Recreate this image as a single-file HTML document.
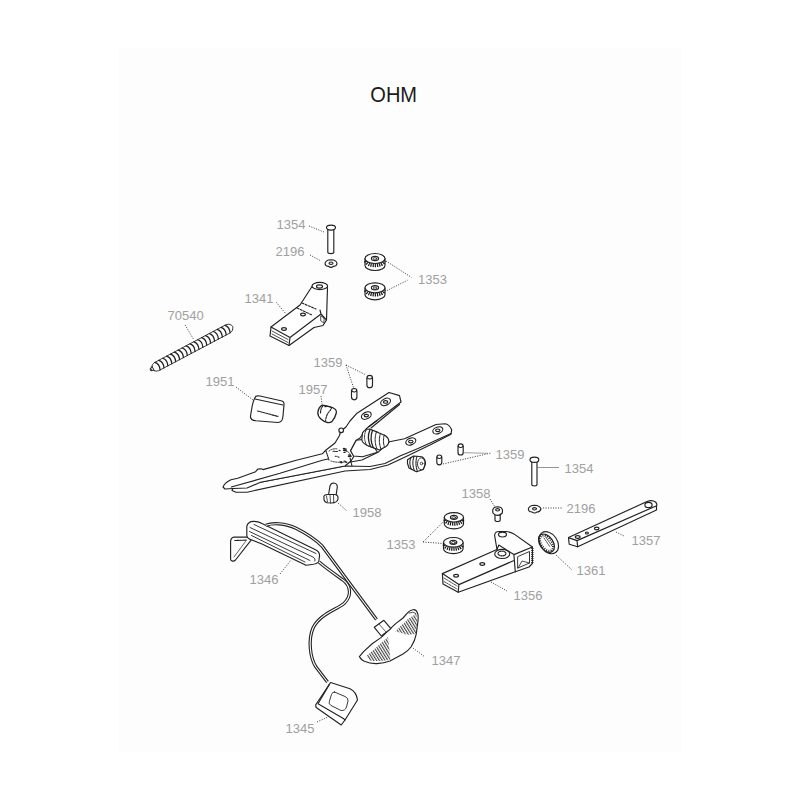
<!DOCTYPE html>
<html><head><meta charset="utf-8"><title>OHM</title>
<style>
html,body{margin:0;padding:0;background:#fff;width:800px;height:800px;overflow:hidden}
svg{display:block}
.d{fill:none;stroke:#222;stroke-width:1.15;stroke-linejoin:round;stroke-linecap:round}
.w{fill:#fff}
.k{fill:none;stroke:#333;stroke-width:.9;stroke-dasharray:1.1 1.4}
.t{font-family:"Liberation Sans",sans-serif;font-size:13px;fill:#a0a0a0}
.h{font-family:"Liberation Sans",sans-serif;font-size:21px;fill:#1a1a1a}
</style></head>
<body>
<svg width="800" height="800" viewBox="0 0 800 800">
<rect x="0" y="0" width="800" height="800" fill="#fff"/>
<rect x="118" y="48" width="564" height="704" fill="#fdfdfd"/>
<text class="h" transform="translate(370.3 102.4) scale(0.955 1.02)">OHM</text>

<!-- ===== labels ===== -->
<g class="t">
<text x="276.5" y="228.9">1354</text>
<text x="275.5" y="256">2196</text>
<text x="418" y="283.6">1353</text>
<text x="244.5" y="302.9">1341</text>
<text x="167.5" y="319.9">70540</text>
<text x="313.5" y="367">1359</text>
<text x="205.5" y="386.1">1951</text>
<text x="298.5" y="393.6">1957</text>
<text x="495.5" y="458.6">1359</text>
<text x="564.5" y="472.6">1354</text>
<text x="461.5" y="497.6">1358</text>
<text x="566.5" y="512.6">2196</text>
<text x="352.5" y="517.1">1958</text>
<text x="631.5" y="545">1357</text>
<text x="386.5" y="548.8">1353</text>
<text x="576.5" y="574.6">1361</text>
<text x="249.5" y="583.8">1346</text>
<text x="513.5" y="599.6">1356</text>
<text x="431.5" y="664.6">1347</text>
<text x="285.5" y="732.6">1345</text>
</g>

<!-- ===== leader lines ===== -->
<g class="k">
<path d="M309 226 L324 232"/>
<path d="M310 255 L321 261"/>
<path d="M386 261 L411.6 277.5 M386.9 290.6 L407.5 280.3"/>
<path d="M276.4 302.4 L286 314"/>
<path d="M185 325 L194 340"/>
<path d="M346 365 L354 389 M346 365 L366 375"/>
<path d="M236 387 L253 400"/>
<path d="M321 396 L322 404"/>
<path d="M443 464 L491 453"/>
<path d="M464 452.7 L488 453.3" style="stroke:#888;stroke-dasharray:none;stroke-width:.8"/>
<path d="M538 467.5 L559 467.5" style="stroke:#777;stroke-dasharray:none;stroke-width:.8"/>
<path d="M490 499 L495 507"/>
<path d="M543 508 L562 508"/>
<path d="M338 503 L347 511"/>
<path d="M616 532 L624 536"/>
<path d="M423 542 L444.3 521 M423 542 L443 543.5"/>
<path d="M556 555 L572 570"/>
<path d="M280 574 L291 560"/>
<path d="M491 582 L507 591"/>
<path d="M413 648 L425 657"/>
<path d="M317 722 L328 717"/>
</g>


<!-- pin 1354 top -->
<g class="d">
<path class="w" d="M327.8 229 V252.3 Q327.8 253.6 330.8 253.6 Q333.8 253.6 333.8 252.3 V229"/>
<ellipse class="w" cx="331" cy="227.6" rx="4.5" ry="2.5"/>
</g>
<!-- washer 2196 top -->
<g class="d">
<path class="w" d="M325 263.5 Q325.5 260 331 259.8 Q336.5 260 337 263.5 Q336.5 266.5 333.5 266.3 Q331 268.5 328.5 266.3 Q325.3 266.5 325 263.5Z"/>
<ellipse cx="331" cy="263.2" rx="2" ry="1.2"/>
</g>
<!-- washers 1353 top -->
<g class="d">
<path class="w" d="M365 258.5 V265.5 A10 5 0 0 0 385 265.5 V258.5"/>
<path d="M366 261.0 A9 4.4 0 0 0 384 261.0" stroke-width="3.6" stroke-dasharray="1.2 0.9" stroke-linecap="butt" stroke="#1a1a1a"/>
<ellipse class="w" cx="375" cy="258.5" rx="10" ry="5"/>
<ellipse cx="375" cy="258.5" rx="3.6" ry="2.1"/>
<ellipse cx="375" cy="258.8" rx="1.8" ry="1.1" stroke-width=".8"/>
<path class="w" d="M365 287.8 V294.8 A10 5 0 0 0 385 294.8 V287.8"/>
<path d="M366 290.3 A9 4.4 0 0 0 384 290.3" stroke-width="3.6" stroke-dasharray="1.2 0.9" stroke-linecap="butt" stroke="#1a1a1a"/>
<ellipse class="w" cx="375" cy="287.8" rx="10" ry="5"/>
<ellipse cx="375" cy="287.8" rx="3.6" ry="2.1"/>
<ellipse cx="375" cy="288.1" rx="1.8" ry="1.1" stroke-width=".8"/>
</g>
<!-- bracket 1341 -->
<g class="d">
<path class="w" d="M312 286.5 L300 305 L271 327 L270 336 L289 345.5 L314 327.5 L323 325.5 L326.5 320 L327.5 287.5"/>
<ellipse class="w" cx="319.8" cy="286" rx="7.8" ry="3.6"/>
<ellipse cx="319.5" cy="286.5" rx="3" ry="1.6"/>
<path d="M271 327 L290 337.5 L289 345.5 M290 337.5 L321 314 L326.5 320 M321 314 L320 310"/>
<path d="M302 303 L316 309 M297 308 L312 315" stroke-dasharray="2 1.5"/>
<ellipse cx="303" cy="314.5" rx="2.4" ry="1.4"/>
<ellipse cx="284" cy="329" rx="2.4" ry="1.4"/>
<path d="M272 331 L288 339.5 M272 334 L288 342.5" stroke-width=".8"/>
<path d="M321 316 L324 318 L324 323 L321 321Z" stroke-width=".8"/>
</g>
<!-- spring 70540 -->
<g class="d" transform="translate(154,368) rotate(-27.9)">
<path class="w" d="M3 -4.6 H84 Q87 -4.4 88.5 -1.5 Q89.5 0 88.5 1.5 Q87 4.4 84 4.6 H3 Q0 4.2 -1.5 2 L-3 1 L-3 -1 L-1.5 -2 Q0 -4.2 3 -4.6Z" stroke-width=".8"/>
<path d="M3.5 -4.5 Q6.9 -1 4.5 4.5 M7.9 -4.5 Q11.3 -1 8.9 4.5 M12.3 -4.5 Q15.7 -1 13.3 4.5 M16.7 -4.5 Q20.1 -1 17.7 4.5 M21.1 -4.5 Q24.5 -1 22.1 4.5 M25.5 -4.5 Q28.9 -1 26.5 4.5 M29.9 -4.5 Q33.3 -1 30.9 4.5 M34.3 -4.5 Q37.7 -1 35.3 4.5 M38.7 -4.5 Q42.1 -1 39.7 4.5 M43.1 -4.5 Q46.5 -1 44.1 4.5 M47.5 -4.5 Q50.9 -1 48.5 4.5 M51.9 -4.5 Q55.3 -1 52.9 4.5 M56.3 -4.5 Q59.7 -1 57.3 4.5 M60.7 -4.5 Q64.1 -1 61.7 4.5 M65.1 -4.5 Q68.5 -1 66.1 4.5 M69.5 -4.5 Q72.9 -1 70.5 4.5 M73.9 -4.5 Q77.3 -1 74.9 4.5 M78.3 -4.5 Q81.7 -1 79.3 4.5 M82.7 -4.5 Q86.1 -1 83.7 4.5" stroke-width="1.25"/>
<path d="M-3 -1.5 Q-5.5 0 -3 1.5 M-1 -2.5 L-1 2.5" stroke-width=".9"/>
</g>
<!-- pins 1359 upper -->
<g class="d">
<rect class="w" x="351.5" y="388.5" width="5.4" height="11.3" rx="2.7"/>
<path d="M351.8 391 Q354.2 393 356.6 391"/>
<rect class="w" x="366.9" y="375.3" width="5.6" height="12.4" rx="2.8"/>
<path d="M367.2 378 Q369.7 380 372.2 378"/>
</g>
<!-- 1951 pad -->
<g class="d">
<path class="w" d="M255.8 396.3 Q257 395.5 260 396 L282 401 Q284.5 402 284 404.5 L283 416 Q282.5 422.5 278 422.5 L256 420.8 Q250 420 250.5 416 L251.5 410 Q253 400 255.8 396.3Z"/>
<path d="M255 399 L283 405"/>
<path d="M257.5 411 L278 416.4" stroke-dasharray="2 1"/>
</g>
<!-- 1957 roller -->
<g class="d">
<path class="w" d="M322.3 405.2 Q325 405.5 328.4 406.3 Q333 407 335.4 409.4 Q336.8 411 336.3 413 Q335 418.5 331.9 421.6 Q330 422.8 327.5 422.5 Q323.5 421.5 320.9 419 Q317.6 416 317.9 412.4 Q318.5 407 322.3 405.2Z" stroke-width="1.3"/>
<path d="M324.9 406.6 Q329.5 405.8 331.4 407.8 Q331 410 328.8 412 Q326.3 415 325.6 420.5" stroke-dasharray="1.8 1.1"/>
<path d="M322.8 406 Q320.3 409 320.6 413.5" stroke-dasharray="1.8 1"/>
</g>
<!-- main lever assembly -->
<g class="d">
<!-- lower arm -->
<path class="w" d="M232 490.5 L236 492.2 L247 492.2 L345 471 L370 469.5 L388 465 L402 458.5 L430 445 L451 434.2 L451.7 429.7 Q449 424 445 423.7 L436 424.5 L404.5 438.8 L389.5 441.8 L378 452.3 L362 460 L345 463 L300 471 L233 488 Z"/>
<path d="M260.5 482.3 L345 466 L370 466.5 L385 463.5 L400 456 L418 448.5 L451 433.6"/>
<ellipse cx="437.8" cy="430.3" rx="5.2" ry="3.3" transform="rotate(-20 437.8 430.3)"/>
<ellipse cx="437.8" cy="430.3" rx="2.2" ry="1.3"/>
<ellipse cx="410.8" cy="441.5" rx="5.2" ry="3.3" transform="rotate(-20 410.8 441.5)"/>
<ellipse cx="410.8" cy="441.5" rx="2.2" ry="1.3"/>
<!-- upper arm -->
<path class="w" d="M223 487 Q225 482.5 231 479.8 L237.8 478.2 L255.6 471.7 L258 469 L261 468.7 L263 469.6 L270.3 467.6 L296.3 460.3 L322.3 453.8 L326 450 L335 443 L339.5 435.5 L340.5 431.5 L346 427 L350 421 L357 413.2 L389 392.5 L399.5 395.6 L401 402 L369 426.5 L366 429 L360 438 L356 440.5 L350.6 450.8 L354 456 L351 461 L345 466 L260.5 482.3 L247 488 L233 488.5 L225 489 Z"/>
<circle class="w" cx="341.2" cy="430.3" r="2.3"/>
<path d="M399.5 404.5 L371 428"/>
<path d="M231.3 487 L280 473.3 L322.3 460.3 L328 459"/>
<ellipse cx="385.6" cy="401.9" rx="5.2" ry="3.3" transform="rotate(-25 385.6 401.9)"/>
<ellipse cx="385.6" cy="401.9" rx="2.2" ry="1.3"/>
<ellipse cx="366.3" cy="415.6" rx="5.2" ry="3.3" transform="rotate(-25 366.3 415.6)"/>
<ellipse cx="366.3" cy="415.6" rx="2.2" ry="1.3"/>
<path d="M335.2 456.2 l1.2 0.1 M343.8 449.0 l0.8 0.3 M335.7 451.5 l1.8 -0.0 M348.4 455.1 l1.4 -0.3 M344.0 461.0 l1.3 0.2 M344.8 449.0 l1.6 0.1 M349.0 455.1 l1.5 0.4 M345.7 461.8 l1.2 0.3 M339.8 462.0 l1.7 -0.4 M333.0 451.3 l1.8 -0.1 M343.8 452.5 l1.3 -0.1 M337.7 456.8 l1.4 0.4 M345.0 461.9 l1.7 0.5 M344.8 450.4 l1.7 0.5 M349.9 456.5 l1.5 -0.3 M348.3 456.6 l1.1 -0.4 M339.0 450.3 l1.1 0.3 M343.5 448.7 l1.5 -0.2 M341.1 463.0 l1.1 -0.4 M343.2 448.5 l1.0 -0.1 M343.4 450.3 l0.8 0.4" stroke-width="1.1"/>
<path d="M329 451 Q333 448 338 449 M344 450 Q350 452 351 456 M331 461 Q337 463 345 462" stroke-dasharray="1.2 1.2" stroke-width=".9"/>
<path d="M326 451 L329 460 M350 458 L352 466" stroke-dasharray="1.2 1"/>
<!-- roller bracket -->
<path class="w" d="M356.3 440.3 L350.6 450.8 L353.5 456 L362.5 456.8 L377.5 452.3 L375 448.5 L367.5 445.5 L362.3 439.5Z"/>
<!-- roller -->
<path class="w" d="M362.5 433 Q364.5 429.3 369.5 429 L378 432.4 L385.5 435.8 Q389 438.5 388.8 441.5 Q388.5 445 386 446.5 L379.5 450 L373.5 447.8 L367.5 445.5 Q362 443 361.8 439.5 Z"/>
<path d="M366 430.3 Q362.8 437 366.5 445" stroke-width=".9" stroke-dasharray="1.5 1"/>
<path d="M370 429.6 Q366.5 438 370.5 446.5 M372.5 430.3 Q369.3 439 373.2 447.5" stroke-width="1.3"/>
<path d="M376.5 431.8 Q373.5 440 377 449 M380.5 433.3 Q378 441 381 449 M384.3 435 Q382.5 441 384.5 447" stroke-width="1" stroke-dasharray="2 .8"/>
<path d="M369 426.5 L377 420.5"/>
</g>
<!-- rubber buffer near lower arm -->
<g class="d">
<path class="w" d="M407.5 459.8 L413.5 456 L421.8 456.8 Q425.5 459 425.5 463.5 L423.3 469.5 L416.5 471.8 L409 468 L407.5 463.5 Z"/>
<ellipse cx="421.3" cy="463.8" rx="3.8" ry="6" stroke-width=".9"/>
<path d="M411 457.5 Q408.5 463 411.5 469.5 M414 456.5 Q411.5 463.5 414.5 470.8 M417 456.3 Q414.7 464 417.5 471.5" stroke-width="1.1" stroke-dasharray="1.6 0.8"/>
<circle cx="421.5" cy="463.5" r="1.3" stroke-width=".8"/>
</g>
<!-- pins 1359 right -->
<g class="d">
<rect class="w" x="436.8" y="455" width="5" height="9.8" rx="2.5"/>
<path d="M437 457.5 Q439.3 459.5 441.6 457.5"/>
<rect class="w" x="458" y="443.8" width="5.2" height="11.2" rx="2.6"/>
<path d="M458.2 446.5 Q460.6 448.5 463 446.5"/>
</g>
<!-- pin 1354 right -->
<g class="d">
<path class="w" d="M531.8 461 V484.6 Q531.8 486 534.4 486 Q537 486 537 484.6 V461"/>
<ellipse class="w" cx="534.4" cy="459.8" rx="4.4" ry="2.6"/>
</g>
<!-- washer 2196 right -->
<g class="d">
<path class="w" d="M528.3 509 Q529 505.5 534.5 505.3 Q540 505.5 541 509 Q540 512 537 512 Q534.5 514 532 512 Q528.7 512 528.3 509Z"/>
<ellipse cx="534.5" cy="508.8" rx="2" ry="1.2"/>
</g>
<!-- screw 1358 -->
<g class="d">
<path class="w" d="M495 514 V520 Q495 521.5 497.6 521.5 Q500.2 521.5 500.2 520 V514"/>
<path class="w" d="M492.7 510.5 Q493 507 497.6 506.8 Q502.2 507 502.5 510.5 L502.3 513 Q500 515.5 497.6 515.3 Q495 515.5 492.9 513Z"/>
<ellipse cx="497.6" cy="509.8" rx="2" ry="1.2"/>
</g>
<!-- screw 1958 (head down) -->
<g class="d">
<path class="w" d="M328.5 495 L330 486 Q331 483 333.5 483 Q337.5 483.5 337.3 487 L336 496"/>
<path class="w" d="M324 498 Q323 494.5 328 494.5 L335 494.5 Q338.5 495 338 499 Q337.5 502.5 332 503 L327 502.8 Q323.5 501.5 324 498Z"/>
<path d="M326.5 496 L327.5 502 M330 495 L330.5 503 M333.5 495 L333.8 503" stroke-width=".8"/>
</g>


<!-- washers 1353 right -->
<g class="d">
<path class="w" d="M444.29999999999995 517.3 V524.0999999999999 A9.6 4.7 0 0 0 463.5 524.0999999999999 V517.3"/>
<path d="M445.29999999999995 519.8 A8.6 4.1000000000000005 0 0 0 462.5 519.8" stroke-width="3.6" stroke-dasharray="1.2 0.9" stroke-linecap="butt" stroke="#1a1a1a"/>
<ellipse class="w" cx="453.9" cy="517.3" rx="9.6" ry="4.7"/>
<ellipse cx="453.9" cy="517.3" rx="3.5" ry="2.0"/>
<ellipse cx="453.9" cy="517.5999999999999" rx="1.7" ry="1.0" stroke-width=".8"/>
<path class="w" d="M443.5 542.3 V548.8 A9.8 4.8 0 0 0 463.1 548.8 V542.3"/>
<path d="M444.5 544.8 A8.8 4.2 0 0 0 462.1 544.8" stroke-width="3.6" stroke-dasharray="1.2 0.9" stroke-linecap="butt" stroke="#1a1a1a"/>
<ellipse class="w" cx="453.3" cy="542.3" rx="9.8" ry="4.8"/>
<ellipse cx="453.3" cy="542.3" rx="3.5" ry="2.0"/>
<ellipse cx="453.3" cy="542.5999999999999" rx="1.8" ry="1.1" stroke-width=".8"/>
</g>
<!-- bracket 1356 -->
<g class="d">
<path class="w" d="M442.4 573.6 L497 549.5 L494.6 535.3 Q495 531.5 499 531.5 L506 531.5 Q510 532 513.9 533.9 L532.4 547 L532.4 563.5 L529 567 L515.3 571.8 L458.2 592.2 L443 584 Z"/>
<path d="M442.4 573.6 L458.9 584.6 L458.2 592.2 M458.9 584.6 L514 560.5 M513.9 554.6 L515.3 571.8 M513.9 554.6 L532.4 547 M497 549.5 L498.8 545 L513.9 554.6"/>
<path d="M518 556.5 L529.5 551.5 L529.5 563 L518 568Z" stroke-width=".9"/>
<path d="M518 568 L522 561 L529.5 563" stroke-width=".8"/>
<path d="M532.4 548 V563" stroke-width="2.2" stroke-dasharray="1 1" stroke-linecap="butt"/>
<ellipse cx="502.5" cy="534.6" rx="4" ry="2.4"/>
<ellipse cx="502.2" cy="553.9" rx="7.5" ry="4.6"/>
<ellipse cx="502" cy="553.5" rx="4" ry="2.4" stroke-dasharray="1.5 1"/>
<ellipse cx="482.3" cy="564" rx="2.4" ry="1.4"/>
<ellipse cx="456.1" cy="575.7" rx="2.4" ry="1.4"/>
<path d="M444 578 L457 586 M444 581.5 L457 589" stroke-width=".8" stroke-dasharray="2 1"/>
</g>
<!-- knurled disc 1361 -->
<g class="d">
<ellipse class="w" cx="548.7" cy="542.7" rx="12" ry="8.6" transform="rotate(55 548.7 542.7)"/>
<ellipse cx="546.5" cy="543.2" rx="10.2" ry="6.6" transform="rotate(55 546.5 543.2)"/>
<ellipse cx="546.5" cy="543.2" rx="8.7" ry="5.2" transform="rotate(55 546.5 543.2)" stroke-width="2.2" stroke-dasharray="1 1.3" stroke-linecap="butt"/>
<path d="M544 538 L550 547 M546 537.5 L552 546" stroke-width=".8" stroke-dasharray="1.2 1"/>
</g>
<!-- bar 1357 -->
<g class="d">
<path class="w" d="M568.5 537.6 L647 501.5 Q652 499.5 655.5 502 Q657.5 504 656.5 506 L656.5 510 L577.7 546.8 L569.2 544.2 Z"/>
<path d="M568.5 537.6 L577 540.6 L577.7 546.8 M577 540.6 L656 506"/>
<ellipse cx="577.7" cy="537" rx="2.4" ry="1.4"/>
<ellipse cx="586.9" cy="533" rx="1.5" ry="1"/>
<ellipse cx="596.7" cy="528.5" rx="2.2" ry="1.4"/>
<ellipse cx="648.5" cy="505" rx="3.6" ry="2.6"/>
</g>
<!-- 1346 strap with cables -->
<g class="d">
<path class="w" d="M230.6 559.3 L230.6 541.3 Q231 537.5 234 537.1 L247 537.1 L251.3 539.8 L235.5 560 Q234 561.5 232.5 561.1 Q230.6 560.5 230.6 559.3Z"/>
<path d="M234.8 540.5 L246.8 540.1" stroke-dasharray="1.5 1"/>
<path d="M245.5 541.5 L234 557" stroke-width=".7"/>
<path class="w" d="M246.8 535.3 L246.8 526.3 Q248 521.5 253.5 521.4 Q258 521.3 262 523.5 L315.5 549.8 Q320 552 319.5 556 L318.8 561.5 Q317 564 312 564.5 L306 565.3 L262 544 L251.3 539.8 Q247 538.5 246.8 535.3 Z"/>
<path d="M254 524.5 L316 553.5 M250 527.5 L313 557 Q316 558.5 315 561 M249.5 531.5 L310 560.5 M251.5 535.5 L305 562" stroke-width=".9"/>
<path d="M266 525.3 C272 522.8 285 522.8 296 528.3 C305 532.8 314 538 322 546 L376.5 619.5" stroke-width="3.3" stroke-linecap="butt"/>
<path d="M266 525.3 C272 522.8 285 522.8 296 528.3 C305 532.8 314 538 322 546 L376.5 619.5" stroke="#fff" stroke-width="1.1" stroke-linecap="butt"/>
<path d="M319 562 C326 568 336 575 343 580 C351 586 352 596 344 603.5 C336 610 320 614 313 628 C308 640 310 658 316 667 L327.5 682" stroke-width="3.3" stroke-linecap="butt"/>
<path d="M319 562 C326 568 336 575 343 580 C351 586 352 596 344 603.5 C336 610 320 614 313 628 C308 640 310 658 316 667 L327.5 682" stroke="#fff" stroke-width="1.1" stroke-linecap="butt"/>
</g>
<!-- 1347 pad -->
<defs>
<pattern id="hat" width="2.4" height="2.4" patternUnits="userSpaceOnUse" patternTransform="rotate(-32)">
<rect x="0" y="0" width="1.1" height="2.4" fill="#444"/>
</pattern>
</defs>
<g class="d">
<path class="w" d="M359.4 656.6 Q361 659.5 363.8 661 Q370 663.8 376.9 663.6 Q384 663 390 661 L403 654 Q408 651 411 647 Q415 641 416.3 633.9 L418 620.8 Q418.5 615 417.5 612.9 Q416 609 412.8 609.8 Q409.5 610.5 407.5 612.9 L403 618 L396 623.4 L390.9 628.2 L381.3 637.4 L372.5 643.5 L363.8 651.4 Z"/>
<path d="M366.5 656 L388 637 L390.5 659.5 Q380 662 370 660.5 Z" fill="url(#hat)" stroke="none"/>
<path d="M395.3 631.3 L408 619 L416.3 613.8 Q417.5 620 416.3 633.9 L407.5 634.8 Z" fill="url(#hat)" stroke="none"/>
<path d="M409 613 Q413 611 416 613.5" stroke-width=".8"/>
<path class="w" d="M374.3 627.3 L383.9 620.3 L390.9 628.6 L381.3 636 Z"/>
<path d="M379 624 L386 632" stroke-width=".7"/>
</g>
<!-- 1345 box -->
<g class="d">
<path class="w" d="M330.6 682.5 L350 688.8 Q356.5 692 357.5 700 L345 720 L341.2 725 L316.2 707.5 L315.6 705 Z"/>
<path d="M318 703.8 L343.8 718.8 L345 720 M318 703.8 L329.4 684.4"/>
<path d="M334.5 692 L345 696.5 Q348.5 698 348 701 L346.5 707 Q345 711 341 710.5 L331 705.5 Q328.5 704 329.3 701.5 L331.5 694.5 Q332.5 691.5 334.5 692Z" stroke-width=".9"/>
</g>
<!-- PARTS -->

</svg>
</body></html>
